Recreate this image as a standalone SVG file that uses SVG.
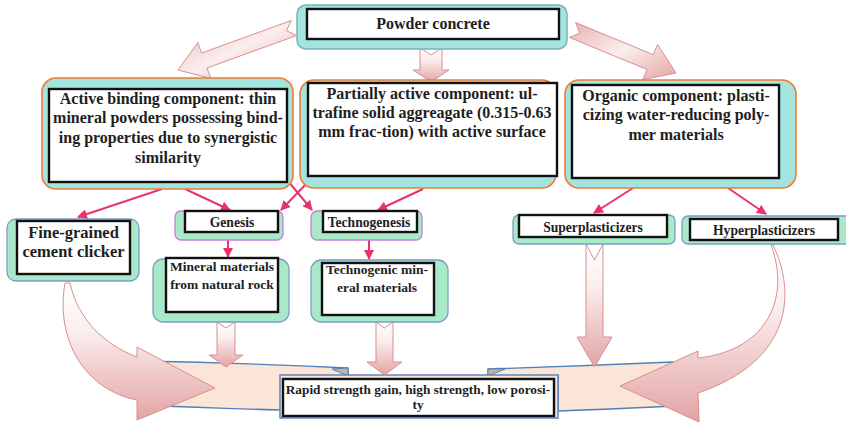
<svg xmlns="http://www.w3.org/2000/svg" width="846" height="424" viewBox="0 0 846 424">
  <defs>
    <linearGradient id="arrowFill" x1="0" y1="0" x2="0" y2="1">
      <stop offset="0" stop-color="#ffffff"/>
      <stop offset="0.35" stop-color="#fbeeee"/>
      <stop offset="1" stop-color="#e3a4a4"/>
    </linearGradient>
    <linearGradient id="diagFill" x1="0" y1="0" x2="1" y2="1">
      <stop offset="0" stop-color="#e8b2b2"/>
      <stop offset="0.5" stop-color="#fbeeee"/>
      <stop offset="1" stop-color="#e3a4a4"/>
    </linearGradient>
    <marker id="tip" viewBox="0 0 10 10" refX="9" refY="5" markerWidth="5" markerHeight="5" orient="auto" markerUnits="strokeWidth">
      <path d="M0,0 L10,5 L0,10 Z" fill="#e8336e"/>
    </marker>
    <style>
      .blk { stroke: #d98f8f; stroke-width: 1; stroke-linejoin: round; }
      .teal { fill: #a3e4df; }
      .lvl1 { stroke: #74b4b6; stroke-width: 1.5; }
      .lvl2 { stroke: #ed7d31; stroke-width: 1.6; }
      .green { fill: #a9e8c9; stroke: #7a9cc6; stroke-width: 1.3; }
      .purple { fill: #a9e8c9; stroke: #c77dd6; stroke-width: 1.3; }
      .inner { fill: #ffffff; stroke: #111111; stroke-width: 2.4; }
      .link { fill: none; stroke: #e8336e; stroke-width: 2; marker-end: url(#tip); }
      text { font-family: "Liberation Serif", "Times New Roman", serif; font-weight: bold; fill: #1e1e1e; text-anchor: middle; }
      .t16 { font-size: 16px; }
      .t14 { font-size: 13.6px; }
    </style>
  </defs>

  <!-- result ribbon at the bottom -->
  <g id="result">
    <path d="M140,361 Q245,363 348,368 L348,402 L280,410 Q205,408 140,405 Z" fill="#fbe5d6" stroke="#4f81bd" stroke-width="1.4"/>
    <path d="M488,369 Q580,366 673,362 L675,406 Q615,409 558,411 L558,376 L488,376 Z" fill="#fbe5d6" stroke="#4f81bd" stroke-width="1.4"/>
    <polygon points="332,369 348,368 348,376" fill="#c8b39a" stroke="#4f81bd" stroke-width="1"/>
    <polygon points="488,369 505,369 488,376" fill="#c8b39a" stroke="#4f81bd" stroke-width="1"/>
    <rect x="280" y="375" width="278" height="43" fill="#fbe5d6" stroke="#4f81bd" stroke-width="1.4"/>
    <rect class="inner" x="283" y="379" width="271" height="37"/>
    <text x="418" y="394" font-size="13.3">Rapid strength gain, high strength, low porosi-</text>
    <text x="418" y="409" font-size="13.3">ty</text>
  </g>

  <!-- connectors -->
  <g id="connectors">
    <!-- block arrows from the top node -->
    <polygon class="blk" fill="url(#diagFill)" points="291.3,20.5 201.6,53 197.8,42.6 178,70 210.8,78.4 207,68 296.7,35.5 286.5,30.7"/>
    <polygon class="blk" fill="url(#arrowFill)" points="420,48 431,55 442,48 442,70 449,70 431,82 413,70 420,70"/>
    <polygon class="blk" fill="url(#diagFill)" points="575.6,22.6 653.3,54.7 657.6,44.6 676,73 642.8,79.6 647.1,69.5 569.4,37.4 579.9,33.1"/>

    <!-- thin links -->
    <line class="link" x1="162" y1="189" x2="78" y2="217"/>
    <line class="link" x1="183" y1="188" x2="230" y2="210"/>
    <line class="link" x1="288" y1="181" x2="312" y2="210"/>
    <line class="link" x1="307" y1="183" x2="281" y2="210"/>
    <line class="link" x1="423" y1="189" x2="378" y2="210"/>
    <line class="link" x1="228" y1="240" x2="228" y2="257"/>
    <line class="link" x1="369" y1="240" x2="369" y2="259"/>
    <line class="link" x1="633" y1="188" x2="594" y2="213"/>
    <line class="link" x1="728" y1="188" x2="766" y2="214"/>

    <!-- block arrows into the result ribbon -->
    <polygon class="blk" fill="url(#arrowFill)" points="217,322 226,328 235,322 235,355 243,355 226,367 209,355 217,355"/>
    <polygon class="blk" fill="url(#arrowFill)" points="376,322 384.5,328 393,322 393,362 402,362 384.5,375 367,362 376,362"/>
    <polygon class="blk" fill="url(#arrowFill)" points="586,244 594.5,260 603,244 603,337 612,337 594.5,367 577,337 586,337"/>
    <path class="blk" fill="url(#arrowFill)" d="M65,283 C55,340 85,390 137,400 L137,420 L215,388 L137,347 L137,357 C105,345 78,320 70,283 Z"/>
    <path class="blk" fill="url(#arrowFill)" d="M773,245 C795,290 795,360 698,393 L699,422 L620,386 L698,351 L698,358 C770,350 790,295 771,245 Z"/>
  </g>

  <!-- top node -->
  <g id="powder-concrete">
    <rect class="teal lvl1" x="297" y="5" width="270" height="44" rx="9"/>
    <rect class="inner" x="307" y="9" width="252" height="30"/>
    <text x="433" y="29" font-size="16">Powder concrete</text>
  </g>

  <!-- second level -->
  <g id="active-binding">
    <rect class="teal lvl2" x="42" y="78" width="251" height="111" rx="14"/>
    <rect class="inner" x="49" y="89" width="238" height="93"/>
    <text class="t16" x="168" y="104">Active binding component: thin</text>
    <text class="t16" x="168" y="123">mineral powders possessing bind-</text>
    <text class="t16" x="168" y="143">ing properties due to synergistic</text>
    <text class="t16" x="168" y="163">similarity</text>
  </g>

  <g id="partially-active">
    <rect class="teal lvl2" x="300" y="80" width="256" height="108" rx="14"/>
    <rect class="inner" x="308" y="83" width="249" height="93"/>
    <text class="t16" x="432" y="99">Partially active component: ul-</text>
    <text class="t16" x="432" y="118">trafine solid aggreagate (0.315-0.63</text>
    <text class="t16" x="432" y="137">mm frac-tion) with active surface</text>
  </g>

  <g id="organic">
    <rect class="teal lvl2" x="565" y="80" width="231" height="108" rx="14"/>
    <rect class="inner" x="572" y="85" width="207" height="93"/>
    <text class="t16" x="676" y="101">Organic component: plasti-</text>
    <text class="t16" x="676" y="120">cizing water-reducing poly-</text>
    <text class="t16" x="676" y="140">mer materials</text>
  </g>

  <!-- third level -->
  <g id="fine-grained">
    <rect class="green" x="7" y="219" width="132" height="62" rx="9"/>
    <rect class="inner" x="17" y="221" width="113" height="53"/>
    <text x="73.5" y="238" font-size="16.5">Fine-grained</text>
    <text x="73.5" y="257" font-size="16.5">cement clicker</text>
  </g>

  <g id="genesis">
    <rect class="purple" x="175" y="211" width="108" height="29" rx="6"/>
    <rect class="inner" x="185" y="211" width="93" height="21"/>
    <text class="t14" x="232" y="227">Genesis</text>
  </g>

  <g id="technogenesis">
    <rect class="purple" x="311" y="211" width="111" height="29" rx="6"/>
    <rect class="inner" x="323" y="211" width="94" height="21"/>
    <text class="t14" x="369" y="227">Technogenesis</text>
  </g>

  <g id="mineral-materials">
    <rect class="green" x="153" y="259" width="136" height="63" rx="10"/>
    <rect class="inner" x="166" y="258" width="112" height="54"/>
    <text x="222" y="271" font-size="13.5">Mineral materials</text>
    <text x="222" y="289" font-size="13.5">from natural rock</text>
  </g>

  <g id="technogenic">
    <rect class="green" x="311" y="260" width="137" height="62" rx="10"/>
    <rect class="inner" x="322" y="263" width="112" height="52"/>
    <text x="377" y="274" font-size="13.5">Technogenic min-</text>
    <text x="377" y="292" font-size="13.5">eral materials</text>
  </g>

  <g id="superplasticizers">
    <rect class="green" x="513" y="215" width="162" height="29" rx="6"/>
    <rect class="inner" x="519" y="215" width="148" height="22"/>
    <text class="t14" x="593" y="232">Superplasticizers</text>
  </g>

  <g id="hyperplasticizers">
    <rect class="green" x="682" y="216" width="172" height="28" rx="6"/>
    <rect class="inner" x="690" y="219" width="148" height="21"/>
    <text class="t14" x="764" y="235">Hyperplasticizers</text>
  </g>
</svg>
